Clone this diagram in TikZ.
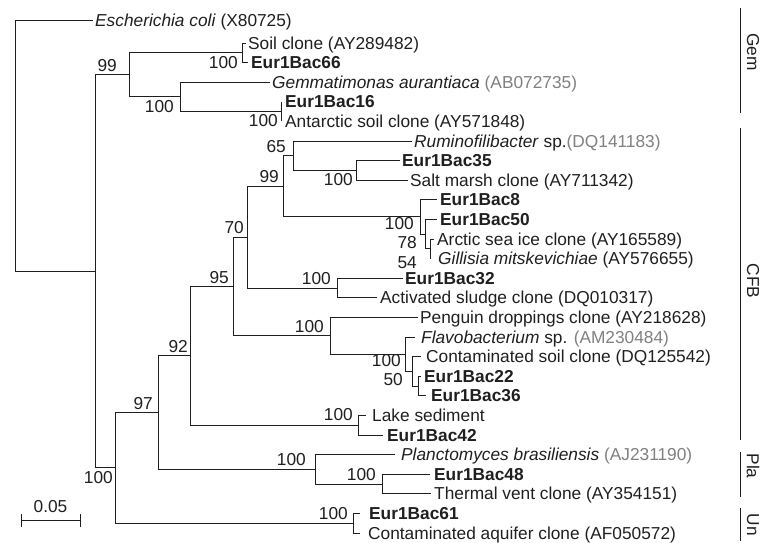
\documentclass[tikz,border=0pt]{standalone}
\usepackage{fontspec}
\setmainfont{Liberation Sans}
\newcommand\lblf{\fontsize{17.3}{19}\selectfont}
\definecolor{acc}{gray}{0.5}
\definecolor{ink}{gray}{0.12}
\begin{document}
\begin{tikzpicture}[x=1pt,y=-1pt,
  br/.style={line width=1pt, draw=ink},
  lf/.style={anchor=west, inner sep=0pt, text height=12.3pt, text depth=0pt, font=\lblf, text=ink},
  bsa/.style={anchor=south east, inner sep=0pt, font=\lblf, text=ink},
  bsb/.style={anchor=north east, inner sep=0pt, font=\lblf, text=ink},
  bsc/.style={anchor=east, inner sep=0pt, text height=12.3pt, text depth=0pt, font=\lblf, text=ink},
  clade/.style={rotate=-90, inner sep=0pt, font=\lblf, text=ink},
  ]
\useasboundingbox (0,0) rectangle (760,542);
% ---------- leaves (tips) ----------
\coordinate (l1) at (93,20);
\coordinate (l2) at (246,43);
\coordinate (l3) at (248,62.6);
\coordinate (l4) at (270,82.2);
\coordinate (l5) at (281,101.8);
\coordinate (l6) at (281,121.4);
\coordinate (l7) at (412,141);
\coordinate (l8) at (400,160.6);
\coordinate (l9) at (408,180.2);
\coordinate (l10) at (437,199.8);
\coordinate (l11) at (437,219.4);
\coordinate (l12) at (434,239);
\coordinate (l13) at (430,258.6);
\coordinate (l14) at (403,278.2);
\coordinate (l15) at (377,297.8);
\coordinate (l16) at (418,317.4);
\coordinate (l17) at (415,337);
\coordinate (l18) at (421,356.6);
\coordinate (l19) at (421,376.2);
\coordinate (l20) at (426,395.8);
\coordinate (l21) at (366,415.4);
\coordinate (l22) at (383,435);
\coordinate (l23) at (395,454.6);
\coordinate (l24) at (430,474.2);
\coordinate (l25) at (431,493.8);
\coordinate (l26) at (360,513.4);
\coordinate (l27) at (360,533);
% ---------- internal nodes ----------
\coordinate (G1) at (242,52.8);
\coordinate (G3) at (281,111.6);
\coordinate (G2) at (180,96.9);
\coordinate (G0) at (129,74.85);
\coordinate (nS) at (356,170.4);
\coordinate (n65) at (293,155.7);
\coordinate (n54) at (430,248.8);
\coordinate (n78) at (425,234.1);
\coordinate (n8) at (420,216.95);
\coordinate (n99) at (283,186.3);
\coordinate (nA) at (337,288);
\coordinate (n70) at (247,237.2);
\coordinate (nY) at (418,386);
\coordinate (nX) at (412,371.3);
\coordinate (nF) at (405,354.15);
\coordinate (nPe) at (330,335.8);
\coordinate (n95) at (233,286.5);
\coordinate (nL) at (358,425.2);
\coordinate (n92) at (190,355.85);
\coordinate (nT) at (382,484);
\coordinate (nP) at (315,469.3);
\coordinate (n97) at (158,412.6);
\coordinate (nU) at (353,523.2);
\coordinate (nB) at (115,467.9);
\coordinate (N1) at (95,271.4);
\coordinate (R) at (15,145.7);
% ---------- branches ----------
\draw[br] (R) |- (l1);  \draw[br] (R) |- (N1);
\draw[br] (N1) |- (G0); \draw[br] (N1) |- (nB);
\draw[br] (G0) |- (G1); \draw[br] (G0) |- (G2);
\draw[br] (G1) |- (l2); \draw[br] (G1) |- (l3);
\draw[br] (G2) |- (l4); \draw[br] (G2) |- (G3);
\draw[br] (G3) |- (l5); \draw[br] (G3) |- (l6);
\draw[br] (nB) |- (n97); \draw[br] (nB) |- (nU);
\draw[br] (n97) |- (n92); \draw[br] (n97) |- (nP);
\draw[br] (n92) |- (n95); \draw[br] (n92) |- (nL);
\draw[br] (n95) |- (n70); \draw[br] (n95) |- (nPe);
\draw[br] (n70) |- (n99); \draw[br] (n70) |- (nA);
\draw[br] (n99) |- (n65); \draw[br] (n99) |- (n8);
\draw[br] (n65) |- (l7); \draw[br] (n65) |- (nS);
\draw[br] (nS) |- (l8); \draw[br] (nS) |- (l9);
\draw[br] (n8) |- (l10); \draw[br] (n8) |- (n78);
\draw[br] (n78) |- (l11); \draw[br] (n78) |- (n54);
\draw[br] (n54) |- (l12); \draw[br] (n54) |- (l13);
\draw[br] (nA) |- (l14); \draw[br] (nA) |- (l15);
\draw[br] (nPe) |- (l16); \draw[br] (nPe) |- (nF);
\draw[br] (nF) |- (l17); \draw[br] (nF) |- (nX);
\draw[br] (nX) |- (l18); \draw[br] (nX) |- (nY);
\draw[br] (nY) |- (l19); \draw[br] (nY) |- (l20);
\draw[br] (nL) |- (l21); \draw[br] (nL) |- (l22);
\draw[br] (nP) |- (l23); \draw[br] (nP) |- (nT);
\draw[br] (nT) |- (l24); \draw[br] (nT) |- (l25);
\draw[br] (nU) |- (l26); \draw[br] (nU) |- (l27);
% ---------- leaf labels ----------
\node[lf] (t1) at (95,20) {\textit{Escherichia coli} (X80725)};
\node[lf] (t2) at (248,43) {Soil clone (AY289482)};
\node[lf] (t3) at (251,62.6) {\textbf{Eur1Bac66}};
\node[lf] (t4) at (272,82.2) {\textit{Gemmatimonas aurantiaca} \textcolor{acc}{(AB072735)}};
\node[lf] (t5) at (285,101.8) {\textbf{Eur1Bac16}};
\node[lf] (t6) at (285,121.4) {Antarctic soil clone (AY571848)};
\node[lf] (t7) at (414,141) {\textit{Ruminofilibacter} sp.\textcolor{acc}{(DQ141183)}};
\node[lf] (t8) at (402,160.6) {\textbf{Eur1Bac35}};
\node[lf] (t9) at (410,180.2) {Salt marsh clone (AY711342)};
\node[lf] (t10) at (440,199.8) {\textbf{Eur1Bac8}};
\node[lf] (t11) at (440,219.4) {\textbf{Eur1Bac50}};
\node[lf] (t12) at (437,239) {Arctic sea ice clone (AY165589)};
\node[lf] (t13) at (438,258.6) {\textit{Gillisia mitskevichiae} (AY576655)};
\node[lf] (t14) at (405,278.2) {\textbf{Eur1Bac32}};
\node[lf] (t15) at (380,297.8) {Activated sludge clone (DQ010317)};
\node[lf] (t16) at (420,317.4) {Penguin droppings clone (AY218628)};
\node[lf] (t17) at (421,337) {\textit{Flavobacterium} sp. \textcolor{acc}{(AM230484)}};
\node[lf] (t18) at (426,356.6) {Contaminated soil clone (DQ125542)};
\node[lf] (t19) at (424,376.2) {\textbf{Eur1Bac22}};
\node[lf] (t20) at (431,395.8) {\textbf{Eur1Bac36}};
\node[lf] (t21) at (372,415.4) {Lake sediment};
\node[lf] (t22) at (387,435) {\textbf{Eur1Bac42}};
\node[lf] (t23) at (401,454.6) {\textit{Planctomyces brasiliensis} \textcolor{acc}{(AJ231190)}};
\node[lf] (t24) at (434,474.2) {\textbf{Eur1Bac48}};
\node[lf] (t25) at (434,493.8) {Thermal vent clone (AY354151)};
\node[lf] (t26) at (369,513.4) {\textbf{Eur1Bac61}};
\node[lf] (t27) at (368,533) {Contaminated aquifer clone (AF050572)};
% ---------- bootstrap values ----------
\node[bsa] (b1) at (117,71.8) {99};
\node[bsb] (b2) at (238,56) {100};
\node[bsb] (b3) at (174,100) {100};
\node[bsb] (b4) at (278,114.6) {100};
\node[bsa] (b5) at (286,152.7) {65};
\node[bsa] (b6) at (279,183.3) {99};
\node[bsb] (b7) at (353,173.4) {100};
\node[bsc] (b8) at (414,223) {100};
\node[bsc] (b9) at (417,242) {78};
\node[bsc] (b10) at (417,262.5) {54};
\node[bsa] (b11) at (244,234.2) {70};
\node[bsa] (b12) at (331,285) {100};
\node[bsa] (b13) at (324,332.8) {100};
\node[bsc] (b14) at (401,360) {100};
\node[bsc] (b15) at (403,379) {50};
\node[bsa] (b16) at (229,283.5) {95};
\node[bsa] (b17) at (188,352.85) {92};
\node[bsa] (b18) at (353,421.2) {100};
\node[bsa] (b19) at (153,409.6) {97};
\node[bsa] (b20) at (306,466.3) {100};
\node[bsa] (b21) at (376,481) {100};
\node[bsa] (b22) at (348,520.2) {100};
\node[bsb] (b23) at (113,471) {100};
% ---------- scale bar ----------
\coordinate (s1) at (21,520);
\coordinate (s2) at (80,520);
\draw[br] (s1) -- (s2);
\draw[br] ([yshift=-6.5pt]s1) -- ([yshift=6.5pt]s1);
\draw[br] ([yshift=-6.5pt]s2) -- ([yshift=6.5pt]s2);
\node[bsa, anchor=south] (sl) at (50.5,513) {0.05};
% ---------- clade bars ----------
\coordinate (cg1) at (740,8);   \coordinate (cg2) at (740,113);
\coordinate (cc1) at (740,128); \coordinate (cc2) at (740,440);
\coordinate (cp1) at (740,452); \coordinate (cp2) at (740,497);
\coordinate (cu1) at (740,508); \coordinate (cu2) at (740,541);
\draw[br] (cg1) -- (cg2);
\draw[br] (cc1) -- (cc2);
\draw[br] (cp1) -- (cp2);
\draw[br] (cu1) -- (cu2);
\node[clade] (lg) at (753,52) {Gem};
\node[clade] (lc) at (753,281) {CFB};
\node[clade] (lp) at (753,466) {Pla};
\node[clade] (lu) at (753,525) {Un};
\end{tikzpicture}
\end{document}
